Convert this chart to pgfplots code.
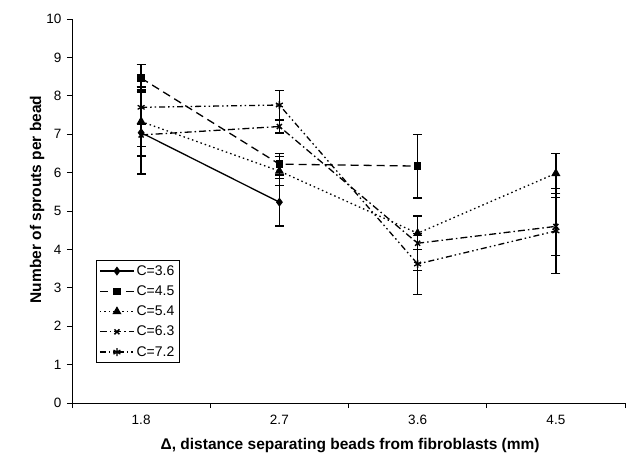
\documentclass[border=0pt]{standalone}
\usepackage{pgfplots}
\pgfplotsset{compat=1.18}
\usepackage{fontspec}
\setmainfont{Liberation Sans}
\newcommand{\tickfont}{\fontsize{13.5bp}{16bp}\selectfont}
\newcommand{\labfont}{\fontsize{15.5bp}{18bp}\selectfont\bfseries}
\newcommand{\legfont}{\fontsize{14bp}{17bp}\selectfont}
\begin{document}
\begin{tikzpicture}
\begin{axis}[
  scale only axis,
  width=553bp, height=384bp,
  xmin=-0.5, xmax=3.5, ymin=0, ymax=10,
  axis lines*=left,
  axis line style={line width=0.8bp, black},
  xtick={0,1,2,3},
  xticklabels={1.8,2.7,3.6,4.5},
  minor xtick={-0.5,0.5,1.5,2.5,3.5},
  x tick style={draw=none},
  minor x tick style={draw=black, line width=0.8bp},
  ytick={0,1,...,10},
  y tick style={black, line width=0.8bp},
  tick align=outside,
  major tick length=5bp, minor tick length=5bp,
  /pgf/number format/assume math mode=true,
  tick label style={font=\tickfont},
  xticklabel style={yshift=-4bp},
  yticklabel style={xshift=-2bp},
  xlabel={Δ, distance separating beads from fibroblasts (mm)},
  ylabel={Number of sprouts per bead},
  label style={font=\labfont},
  xlabel style={at={(axis description cs:0.503,0)}, anchor=center, yshift=-43bp},
  ylabel style={at={(axis description cs:0,0.53)}, anchor=center, yshift=35bp},
  clip=false,
  legend style={at={(axis description cs:0.0434,0.372)}, anchor=north west,
    draw=black, line width=0.6bp, font=\legfont,
    row sep=5bp, inner xsep=3bp, inner ysep=3bp},
  legend cell align=left,
  legend image code/.code={\draw[mark repeat=2,mark phase=2,#1] plot coordinates {(0bp,0bp) (17bp,0bp) (34bp,0bp)};},
  every axis plot/.append style={black, line width=1.3bp},
  error bars/y dir=both, error bars/y explicit,
  error bars/error bar style={solid, line width=1.6bp, black},
  error bars/error mark options={rotate=90, mark size=4.5bp, line width=1.3bp, solid},
]
\addplot[solid, mark=diamond*, mark size=3.5bp, mark options={solid}]
  coordinates {(0,7.04) +- (0,1.08) (1,5.23) +- (0,0.62)};
\addlegendentry{C=3.6}
\addplot[dash pattern=on 8bp off 5bp, mark=square*, mark size=3bp, mark options={solid}]
  coordinates {(0,8.46) +- (0,0.36) (1,6.22) +- (0,0.28) (2,6.17) +- (0,0.83)};
\addlegendentry{C=4.5}
\addplot[dash pattern=on 1.5bp off 3bp, mark=triangle*, mark size=4bp, mark options={solid}]
  coordinates {(0,7.33) +- (0,0.9) (1,6.04) +- (0,0.38) (2,4.42) +- (0,0.43) (3,5.98) +- (0,0.52)};
\addlegendentry{C=5.4}
\addplot[dash pattern=on 7bp off 3bp on 1.5bp off 3bp, mark=x, mark size=3.5bp, mark options={solid, line width=1.5bp}]
  coordinates {(0,6.98) +- (0,0.3) (1,7.2) +- (0,0.17) (2,4.16) +- (0,0.71) (3,4.6) +- (0,0.75)};
\addlegendentry{C=6.3}
\addplot[dash pattern=on 6bp off 3bp on 1.5bp off 3bp on 1.5bp off 3bp, mark=asterisk, mark size=4bp, mark options={solid, line width=1.3bp}]
  coordinates {(0,7.70) +- (0,0.45) (1,7.76) +- (0,0.38) (2,3.62) +- (0,0.8) (3,4.48) +- (0,1.1)};
\addlegendentry{C=7.2}
\end{axis}
\path (current axis.south west) ++(-72bp,-59bp) rectangle ++(627bp,462bp);
\end{tikzpicture}
\end{document}
